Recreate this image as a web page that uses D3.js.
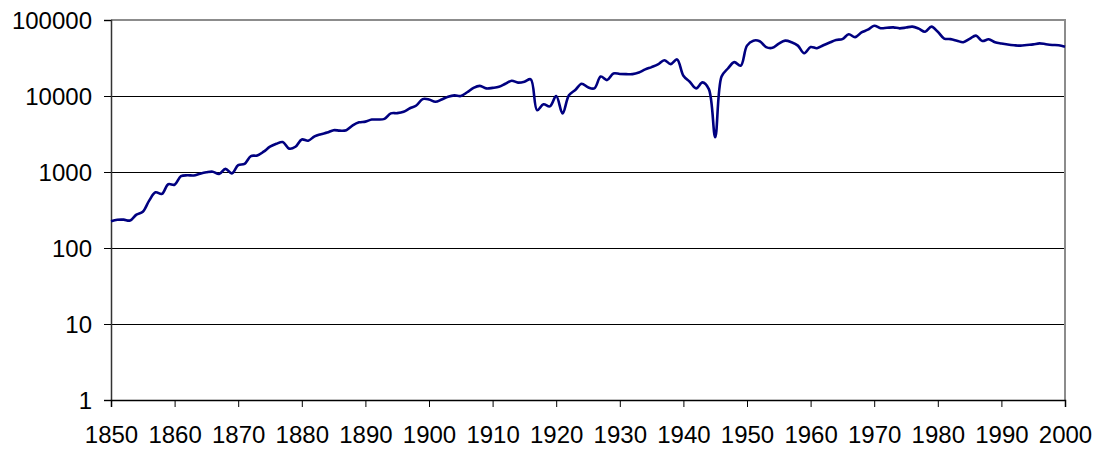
<!DOCTYPE html>
<html>
<head>
<meta charset="utf-8">
<script src="https://cdn.jsdelivr.net/npm/d3@7"></script>
<style>
html,body{margin:0;padding:0;background:#fff;}
svg text{font-family:"Liberation Sans",Arial,sans-serif;fill:#000;}
</style>
</head>
<body>
<svg id="chart" width="1102" height="454"></svg>
<script>
const startYear = 1850;
const values = [
 225,235,236,230,275,300,420,540,515,690,
 680,880,905,900,950,990,1010,940,1100,960,
 1230,1280,1620,1650,1850,2150,2350,2480,2030,2150,
 2680,2580,2950,3150,3300,3550,3500,3550,4100,4500,
 4600,4900,4900,5000,5900,5950,6200,6900,7500,9100,
 9000,8400,9000,9800,10200,10000,11200,12800,13600,12600,
 12800,13200,14500,15900,15000,15400,16600,6500,7800,7300,
 10000,5900,10200,12000,14500,13000,12600,18000,16200,19800,
 19500,19400,19400,20400,22400,24000,26000,29600,26300,30300,
 18500,15400,12600,15100,12300,2870,18000,23000,27900,25000,
 46000,53500,52500,44000,43000,49000,53500,51000,46000,36600,
 44000,42600,46500,50500,54600,56000,64800,59500,68700,74500,
 84000,78000,79000,80000,77700,79500,81800,77000,70000,81800,
 70000,57000,56000,53500,51000,56500,62300,52900,55700,51000,
 49000,47500,46500,46000,47000,47800,49300,48000,47000,46500,
 44500
];
const years = values.map((v, i) => startYear + i);
const xTicks = [1850,1860,1870,1880,1890,1900,1910,1920,1930,1940,1950,1960,1970,1980,1990,2000];
const yTicks = [1,10,100,1000,10000,100000];

const svg = d3.select("#chart");
const margin = {left:111, top:20, right:37, bottom:54};
const W = 1102, H = 454;
const x = d3.scaleLinear().domain([1850,2000]).range([margin.left, W - margin.right]);
const y = d3.scaleLog().domain([1,100000]).range([H - margin.bottom, margin.top]);

// gridlines
svg.append("g").selectAll("line").data(yTicks.filter(t => t > 1 && t < 100000)).join("line")
  .attr("x1", x(1850)).attr("x2", x(2000))
  .attr("y1", d => y(d)).attr("y2", d => y(d))
  .attr("stroke", "#000").attr("stroke-width", 1).attr("shape-rendering","crispEdges");

// top and right borders (grey)
svg.append("line").attr("x1", x(1850)).attr("x2", x(2000)+1).attr("y1", y(100000)).attr("y2", y(100000))
  .attr("stroke", "#8c8c8c").attr("stroke-width", 2);
svg.append("line").attr("x1", x(2000)).attr("x2", x(2000)).attr("y1", y(100000)).attr("y2", y(1))
  .attr("stroke", "#8c8c8c").attr("stroke-width", 2);

// axes
const yAxis = d3.axisLeft(y).tickValues(yTicks).tickFormat(d3.format("d")).tickSize(7).tickPadding(12);
const gy = svg.append("g").attr("transform", `translate(${margin.left},0)`).call(yAxis);
gy.selectAll("text").style("font-size","24px").attr("dy","0.35em");
gy.select(".domain").attr("stroke","#333").attr("stroke-width",1.5);
gy.selectAll(".tick line").attr("stroke","#000");

const xAxis = d3.axisBottom(x).tickValues(xTicks).tickFormat(d3.format("d")).tickSize(7).tickPadding(19);
const gx = svg.append("g").attr("transform", `translate(0,${H - margin.bottom})`).call(xAxis);
gx.selectAll("text").style("font-size","24px");
gx.select(".domain").attr("stroke","#000").attr("stroke-width",1.5);
gx.selectAll(".tick line").attr("stroke","#000");

// line
const line = d3.line()
  .x((d, i) => x(years[i]))
  .y(d => y(d))
  .curve(d3.curveCatmullRom.alpha(0.5));
svg.append("path").datum(values)
  .attr("fill","none").attr("stroke","#000080").attr("stroke-width",2.6)
  .attr("stroke-linejoin","round").attr("d", line);
</script>
</body>
</html>
